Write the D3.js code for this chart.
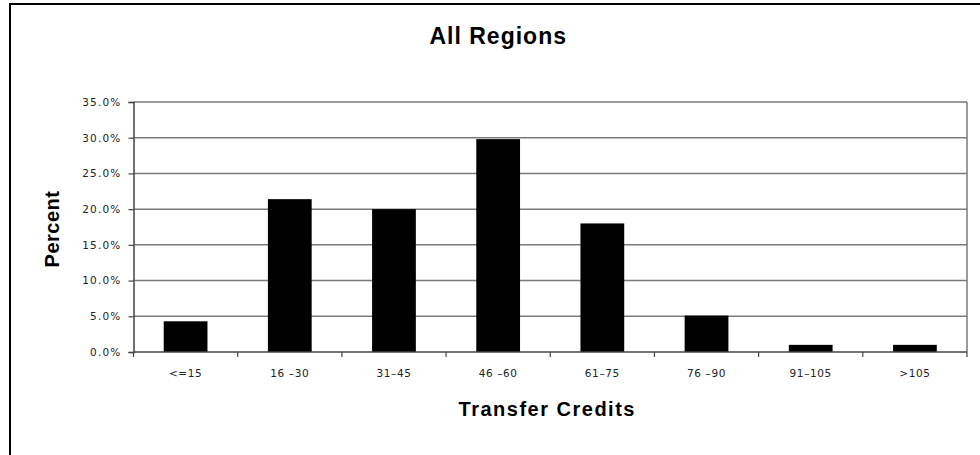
<!DOCTYPE html>
<html><head><meta charset="utf-8">
<script src="https://cdn.jsdelivr.net/npm/d3@7"></script>
<style>body{margin:0;background:#fff;}svg{display:block;}</style>
</head><body>
<svg id="chart" width="980" height="455"></svg>
<script>
const categories = ["<=15","16-30","31-45","46-60","61-75","76-90","91-105",">105"];
const categoryLabels = ["<=15","16 \u201330","31\u201345","46 \u201360","61\u201375","76 \u201390","91\u2013105",">105"];
const percentValues = [4.3, 21.4, 20.0, 29.8, 18.0, 5.1, 1.0, 1.0];
const yTicks = [0,5,10,15,20,25,30,35];
const chartTitle = "All Regions";
const xTitle = "Transfer Credits";
const yTitle = "Percent";

const svg = d3.select("#chart");
const m = {left:133.5, right:967, top:102, bottom:352};

// outer frame (only left and top edges visible)
svg.append("line").attr("x1",10).attr("x2",10).attr("y1",3).attr("y2",455).attr("stroke","#000").attr("stroke-width",2);
svg.append("line").attr("x1",9).attr("x2",980).attr("y1",4).attr("y2",4).attr("stroke","#000").attr("stroke-width",2);

const x = d3.scaleBand().domain(categories).range([m.left, m.right]).paddingInner(0.58).paddingOuter(0.29);
const xb = d3.scaleBand().domain(categories).range([m.left, m.right]);
const y = d3.scaleLinear().domain([0,35]).range([m.bottom, m.top]);

const gridColor = "#7a7a7a";
// gridlines
svg.append("g").selectAll("line").data(yTicks.filter(d=>d>0)).join("line")
  .attr("x1",m.left).attr("x2",m.right).attr("y1",d=>y(d)).attr("y2",d=>y(d))
  .attr("stroke",gridColor).attr("stroke-width",1.5);
// right border
svg.append("line").attr("x1",m.right).attr("x2",m.right).attr("y1",m.top).attr("y2",m.bottom)
  .attr("stroke",gridColor).attr("stroke-width",1.5);

// bars
svg.append("g").selectAll("rect").data(percentValues).join("rect")
  .attr("x",(d,i)=>x(categories[i])).attr("width",x.bandwidth())
  .attr("y",d=>y(d)).attr("height",d=>m.bottom-y(d)).attr("fill","#000");

// y axis
const yAxis = svg.append("g").attr("transform",`translate(${m.left},0)`)
  .call(d3.axisLeft(y).tickValues(yTicks).tickSize(5).tickPadding(7).tickFormat(d=>d3.format(".1f")(d)+"%"));
yAxis.select(".domain").attr("stroke","#444").attr("stroke-width",1.5);
yAxis.selectAll(".tick line").attr("stroke","#444").attr("stroke-width",1.2);
yAxis.selectAll("text").attr("font-family","DejaVu Sans, sans-serif").attr("font-size",10.5)
  .attr("fill","#222").style("letter-spacing","1.2px");

// x axis with ticks at category boundaries
const xAxisG = svg.append("g").attr("transform",`translate(0,${m.bottom})`);
xAxisG.append("line").attr("x1",m.left).attr("x2",m.right).attr("stroke","#444").attr("stroke-width",1.5);
const bounds = categories.map(c=>xb(c)).concat([m.right]);
xAxisG.selectAll("line.tk").data(bounds).join("line").attr("class","tk")
  .attr("x1",d=>d).attr("x2",d=>d).attr("y1",0).attr("y2",5).attr("stroke","#444").attr("stroke-width",1.2);
xAxisG.selectAll("text").data(categories).join("text")
  .attr("x",d=>xb(d)+xb.bandwidth()/2).attr("y",25)
  .attr("text-anchor","middle").attr("font-family","DejaVu Sans, sans-serif").attr("font-size",10.5)
  .attr("fill","#222").style("letter-spacing","0.6px")
  .text((d,i)=>categoryLabels[i]);

// titles
svg.append("text").attr("x",(m.left+m.right)/2 - 52).attr("y",44).attr("text-anchor","middle")
  .attr("font-family","Liberation Sans, Arial, sans-serif").attr("font-weight","bold").attr("font-size",23)
  .style("letter-spacing","1px").text(chartTitle);
svg.append("text").attr("x",(m.left+m.right)/2 - 3).attr("y",416).attr("text-anchor","middle")
  .attr("font-family","Liberation Sans, Arial, sans-serif").attr("font-weight","bold").attr("font-size",20)
  .style("letter-spacing","1.5px").text(xTitle);
svg.append("text").attr("transform",`translate(59,229) rotate(-90)`).attr("text-anchor","middle")
  .attr("font-family","Liberation Sans, Arial, sans-serif").attr("font-weight","bold").attr("font-size",20)
  .style("letter-spacing","0.5px").text(yTitle);
</script>
</body></html>
